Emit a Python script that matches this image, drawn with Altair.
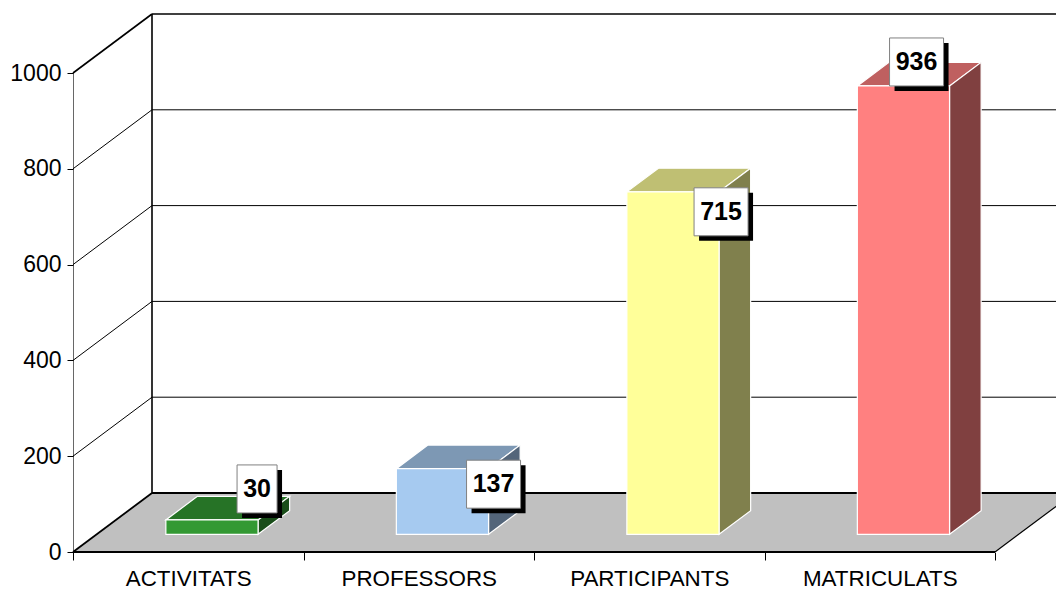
import altair as alt
import pandas as pd

# ---- values
categories = ["ACTIVITATS", "PROFESSORS", "PARTICIPANTS", "MATRICULATS"]
values = [30, 137, 715, 936]
front_colors = ["#339933", "#A6CAF0", "#FFFF99", "#FF8080"]
top_colors = ["#267326", "#7D98B4", "#BFBF73", "#BF6060"]
side_colors = ["#194D19", "#53657A", "#80804D", "#804040"]
y_ticks = [0, 200, 400, 600, 800, 1000]
label_shift_px_x = [-1, 5, 2, -33]
label_shift_px_y = [31, -15.5, -20, 24]
label_box_px = [40, 54, 54, 54]

# ---- projection of the oblique 3-D frame (in data units)
PLOT_W = 983
CAT_PX = 230.5
VAL_PX = 0.479
DX = 79 / CAT_PX
DY = 59 / VAL_PX
N = len(categories)
XMAX = PLOT_W / CAT_PX
YMAX = 1000 + DY
GAP, BAR = 0.3, 0.4
D0, D1 = 0.3, 0.7

xs = alt.Scale(domain=[0, XMAX], nice=False, zero=False)
ys = alt.Scale(domain=[0, YMAX], nice=False, zero=False)

x_axis = alt.Axis(
    values=[i / 2 for i in range(2 * N + 1)],
    domain=False, grid=False, tickSize=8, tickColor="black", tickWidth=1,
    tickOpacity={"condition": {"test": "datum.value % 1 == 0", "value": 1}, "value": 0},
    labelExpr="datum.value % 1 == 0 ? '' : " + str(categories) + "[floor(datum.value)]",
    labelFont="Liberation Sans", labelFontSize=22.4, labelColor="black",
    labelPadding=7, labelOverlap=False, labelFlush=False, labelBound=False,
    labelAngle=0, title=None,
)
y_axis = alt.Axis(
    values=y_ticks, domain=False, grid=False, tickSize=6, tickColor="black", tickWidth=1,
    labelFont="Liberation Sans", labelFontSize=23, labelColor="black", labelPadding=6,
    labelOverlap=False, labelFlush=False, labelBound=False, format="d", title=None,
)


def X(f="x"):
    return alt.X(f"{f}:Q", scale=xs, axis=x_axis, title=None)


def Y(f="y"):
    return alt.Y(f"{f}:Q", scale=ys, axis=y_axis, title=None)


FILL = alt.Fill("col:N", scale=None, legend=None)

# ---- floor
floor = pd.DataFrame([
    {"y": 0, "x": 0, "x2": N},
    {"y": DY, "x": DX, "x2": N + DX},
])
floor_layer = alt.Chart(floor).mark_area(orient="horizontal", color="#C0C0C0", clip=True).encode(
    x=X("x"), x2="x2:Q", y=Y("y")
)


# ---- frame lines
def segs(items):
    rows = []
    for k, (a, b, c, d) in enumerate(items):
        rows += [{"id": k, "o": 0, "x": a, "y": b}, {"id": k, "o": 1, "x": c, "y": d}]
    return pd.DataFrame(rows)


def lines(items, width, clip=False):
    return alt.Chart(segs(items)).mark_line(color="black", strokeWidth=width, clip=clip).encode(
        x=X(), y=Y(), detail="id:N", order="o:Q"
    )


grid_vals = [v for v in y_ticks if 0 < v < 1000]
thin = [(DX, v + DY, XMAX, v + DY) for v in grid_vals] + [(0, v, DX, v + DY) for v in grid_vals]
thin_layer = lines(thin, 1)
edge_layer = lines([(0, 0, 0, 1000), (N, 0, N + DX, DY)], 1.2, clip=True)
thick_layer = lines(
    [(DX, 1000 + DY, XMAX, 1000 + DY), (DX, DY, DX, 1000 + DY), (0, 1000, DX, 1000 + DY)], 1.6
)
base_layer = lines([(DX, DY, XMAX, DY), (0, 0, N, 0), (0, 0, DX, DY)], 1.8)

# ---- bars
front_rows, side_rows, top_rows = [], [], []
for i, (c, v) in enumerate(zip(categories, values)):
    left = i + GAP
    right = left + BAR
    front_rows.append({
        "c": c, "col": front_colors[i], "x": left + D0 * DX, "x2": right + D0 * DX,
        "y": D0 * DY, "y2": v + D0 * DY,
    })
    for d in (D0, D1):
        side_rows.append({"c": c, "col": side_colors[i], "x": right + d * DX, "y": d * DY, "y2": v + d * DY})
        top_rows.append({"c": c, "col": top_colors[i], "y": v + d * DY, "x": left + d * DX, "x2": right + d * DX})

front_layer = alt.Chart(pd.DataFrame(front_rows)).mark_rect(stroke="white", strokeWidth=1.2).encode(
    x=X(), x2="x2:Q", y=Y(), y2="y2:Q", fill=FILL
)
side_layer = alt.Chart(pd.DataFrame(side_rows)).mark_area(stroke="white", strokeWidth=1.2).encode(
    x=X(), y=Y(), y2="y2:Q", fill=FILL, detail="c:N"
)
top_layer = alt.Chart(pd.DataFrame(top_rows)).mark_area(
    orient="horizontal", stroke="white", strokeWidth=1.2
).encode(
    x=X(), x2="x2:Q", y=Y(), fill=FILL, detail="c:N"
)

# ---- data labels (boxes anchored to each bar's front top-right corner)
label_rows = []
BOX_H = 48
SHADOW = 5
for i, v in enumerate(values):
    ax = i + GAP + BAR + D0 * DX
    ay = v + D0 * DY
    cx = ax + label_shift_px_x[i] / CAT_PX
    cy = ay + label_shift_px_y[i] / VAL_PX
    hw = label_box_px[i] / 2 / CAT_PX
    hh = BOX_H / 2 / VAL_PX
    sx, sy = SHADOW / CAT_PX, SHADOW / VAL_PX
    label_rows.append({
        "t": str(v), "cx": cx, "cy": cy,
        "l": cx - hw, "r": cx + hw, "b": cy - hh, "u": cy + hh,
        "sl": cx - hw + sx, "sr": cx + hw + sx, "sb": cy - hh - sy, "su": cy + hh - sy,
    })
labels = pd.DataFrame(label_rows)

shadow_layer = alt.Chart(labels).mark_rect(color="black").encode(
    x=X("sl"), x2="sr:Q", y=Y("sb"), y2="su:Q"
)
box_layer = alt.Chart(labels).mark_rect(fill="white", stroke="#808080", strokeWidth=1).encode(
    x=X("l"), x2="r:Q", y=Y("b"), y2="u:Q"
)
text_layer = alt.Chart(labels).mark_text(
    font="Liberation Sans", fontSize=25, fontWeight="bold", color="black",
    align="center", baseline="middle",
).encode(x=X("cx"), y=Y("cy"), text="t:N")

chart = alt.layer(
    floor_layer, thin_layer, edge_layer, thick_layer, base_layer,
    top_layer, side_layer, front_layer,
    shadow_layer, box_layer, text_layer,
).properties(
    width=PLOT_W, height=538,
    autosize=alt.AutoSizeParams(type="none"),
    padding={"left": 65, "top": 6, "right": 0, "bottom": 38},
    background="white",
).configure_view(stroke=None)

chart.save("out.html", embed_options={"renderer": "svg", "actions": False})
